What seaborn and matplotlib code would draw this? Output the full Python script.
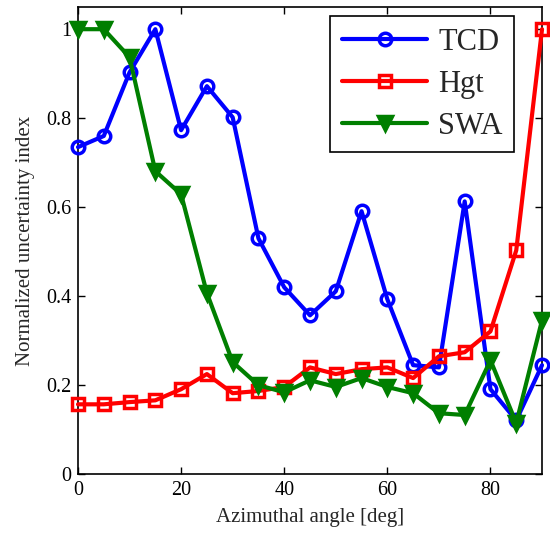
import matplotlib
matplotlib.use('Agg')
import matplotlib.pyplot as plt
import seaborn as sns
import pandas as pd

# azimuthal angles [deg]
angles = [0, 5, 10, 15, 20, 25, 30, 35, 40, 45, 50, 55, 60, 65, 70, 75, 80, 85, 90]

tcd = [0.735, 0.760, 0.903, 1.0, 0.773, 0.872, 0.802, 0.530, 0.420, 0.357,
       0.411, 0.591, 0.393, 0.245, 0.240, 0.613, 0.191, 0.121, 0.245]
hgt = [0.157, 0.157, 0.162, 0.166, 0.191, 0.225, 0.182, 0.187, 0.196, 0.240,
       0.225, 0.236, 0.240, 0.216, 0.265, 0.274, 0.321, 0.503, 1.0]
swa = [1.0, 1.0, 0.937, 0.681, 0.629, 0.407, 0.252, 0.200, 0.184, 0.211,
       0.196, 0.216, 0.196, 0.182, 0.137, 0.133, 0.256, 0.115, 0.346]

series_names = ['TCD', 'Hgt', 'SWA']
series_vals = [tcd, hgt, swa]
colors = ['#0000ff', '#ff0000', '#007f00']
markers = ['o', 's', 'v']
fill = ['none', 'none', '#007f00']
msizes = [9, 9, 10.5]

sns.set_style('ticks')
plt.rcParams['font.family'] = ['Liberation Serif', 'DejaVu Serif']

fig = plt.figure(figsize=(5.5, 5.34), dpi=100)
ax = fig.add_axes([0.1418, 0.112, 0.8437, 0.875])

for name, vals, c, m, f, ms in zip(series_names, series_vals, colors, markers, fill, msizes):
    df = pd.DataFrame({'angle': angles, 'value': vals})
    sns.lineplot(data=df, x='angle', y='value', ax=ax, color=c, lw=3,
                 marker=m, markersize=ms,
                 markerfacecolor=f, markeredgecolor=c, markeredgewidth=2.5,
                 label=name, clip_on=False, zorder=3)

ax.set_xlim(0, 90)
ax.set_ylim(0, 1.05)
ax.set_xticks([0, 20, 40, 60, 80])
ax.set_yticks([0, 0.2, 0.4, 0.6, 0.8, 1.0])
ax.set_yticklabels(['0', '0.2', '0.4', '0.6', '0.8', '1'])
ax.tick_params(direction='in', top=True, right=True, labelsize=14.5, length=5,
               width=1, colors='black', pad=5)
for s in ax.spines.values():
    s.set_linewidth(1.2)
    s.set_color('black')
ax.set_xlabel('Azimuthal angle [deg]', fontsize=15, labelpad=6)
ax.set_ylabel('Normalized uncertainty index', fontsize=15, labelpad=8)

leg = ax.legend(loc='upper right', fontsize=22, frameon=True, fancybox=False,
                edgecolor='black', framealpha=1, handlelength=2.8,
                borderpad=0.38, labelspacing=0.42, handletextpad=0.35,
                borderaxespad=0, bbox_to_anchor=(0.94, 0.98))
leg.get_frame().set_linewidth(1.2)

fig.savefig('out.png', dpi=100)
